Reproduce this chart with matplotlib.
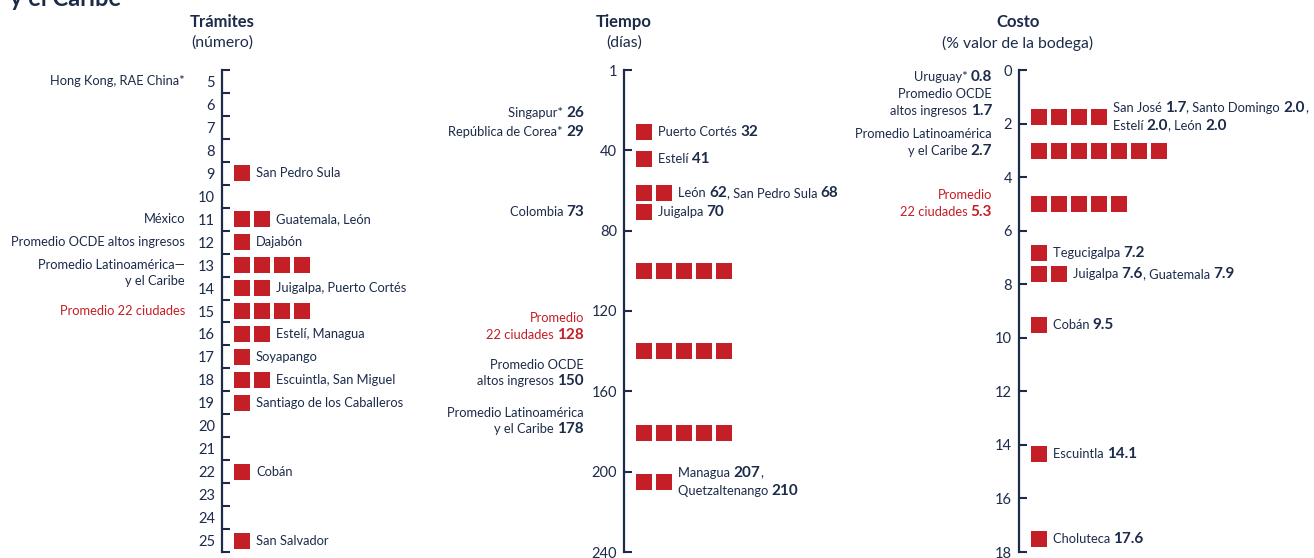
import matplotlib
matplotlib.use('Agg')
import matplotlib.pyplot as plt
import numpy as np
from matplotlib.offsetbox import TextArea, HPacker, VPacker, AnnotationBbox

plt.rcParams['font.family'] = ['Lato', 'DejaVu Sans']

NAVY = '#1c2b4a'
RED = '#c41e26'

# Trámites (número)
tram_vals = [9, 11, 12, 13, 14, 15, 16, 17, 18, 19, 22, 25]
tram_counts = [1, 2, 1, 4, 2, 4, 2, 1, 2, 1, 1, 1]
tram_names = ['San Pedro Sula', 'Guatemala, León', 'Dajabón', '', 'Juigalpa, Puerto Cortés', '',
              'Estelí, Managua', 'Soyapango', 'Escuintla, San Miguel', 'Santiago de los Caballeros',
              'Cobán', 'San Salvador']
tram_ref = ['Hong Kong, RAE China*', 'México', 'Promedio OCDE altos ingresos',
            'Promedio Latinoamérica—\ny el Caribe', 'Promedio 22 ciudades']
tram_ref_pos = [5, 11, 12, 13.35, 15]
tram_ref_red = [False, False, False, False, True]

# Tiempo (días)
tiempo_pos = [31, 44.5, 61.4, 70.8, 100.2, 140, 180.8, 205.2]
tiempo_counts = [1, 1, 2, 1, 5, 5, 5, 2]
tiempo_names = ['Puerto Cortés |32|', 'Estelí |41|', 'León |62|, San Pedro Sula |68|', 'Juigalpa |70|',
                '', '', '', 'Managua |207|,\nQuetzaltenango |210|']
tiempo_ref = ['Singapur* |26|', 'República de Corea* |29|', 'Colombia |73|',
              'Promedio\n22 ciudades |128|', 'Promedio OCDE\naltos ingresos |150|',
              'Promedio Latinoamérica\ny el Caribe |178|']
tiempo_ref_pos = [21.6, 31, 70.8, 128, 151, 175]
tiempo_ref_red = [False, False, False, True, False, False]
tiempo_ticks = [0, 40, 80, 120, 160, 200, 240]
tiempo_ticklabels = ['1', '40', '80', '120', '160', '200', '240']

# Costo (% valor de la bodega)
costo_pos = [1.75, 3.02, 5.0, 6.83, 7.62, 9.52, 14.34, 17.51]
costo_counts = [4, 7, 5, 1, 2, 1, 1, 1]
costo_names = ['San José |1.7|, Santo Domingo |2.0|,\nEstelí |2.0|, León |2.0|', '', '',
               'Tegucigalpa |7.2|', 'Juigalpa |7.6|, Guatemala |7.9|', 'Cobán |9.5|',
               'Escuintla |14.1|', 'Choluteca |17.6|']
costo_ref = ['Uruguay* |0.8|', 'Promedio OCDE\naltos ingresos |1.7|',
             'Promedio Latinoamérica\ny el Caribe |2.7|', 'Promedio\n22 ciudades |5.3|']
costo_ref_pos = [0.26, 1.23, 2.73, 5.0]
costo_ref_red = [False, False, False, True]

W, H = 1314, 558
fig = plt.figure(figsize=(W / 100, H / 100), dpi=100)
fig.text(10 / W, 1 - 6 / H, 'y el Caribe', fontsize=17, fontweight='bold', color=NAVY, va='baseline')


def make_ax(x0, w, lo, hi):
    ax = fig.add_axes([x0 / W, (H - 552) / H, w / W, 482 / H])
    ax.set_xlim(0, w)
    ax.set_ylim(hi, lo)
    for s in ['top', 'right', 'bottom']:
        ax.spines[s].set_visible(False)
    ax.spines['left'].set_color(NAVY)
    ax.spines['left'].set_linewidth(1.6)
    ax.set_xticks([])
    ax.patch.set_alpha(0)
    return ax


def rich(ax, x, y, s, ha, color, size=9.25):
    lines = []
    for line in s.split('\n'):
        parts = line.split('|')
        kids = []
        for i, p in enumerate(parts):
            if p == '':
                continue
            if i % 2:
                kids.append(TextArea(p, textprops=dict(color=color, fontsize=size + 1.7, fontweight='bold')))
            else:
                kids.append(TextArea(p, textprops=dict(color=color, fontsize=size)))
        lines.append(HPacker(children=kids, align='baseline', pad=0, sep=0))
    box = VPacker(children=lines, align='right' if ha == 'right' else 'left', pad=0, sep=2.5)
    ab = AnnotationBbox(box, (x, y), xycoords='data', frameon=False, pad=0,
                        box_alignment=(1 if ha == 'right' else 0, 0.5), annotation_clip=False)
    ax.add_artist(ab)


def squares(ax, pos, counts, names):
    for y, n, name in zip(pos, counts, names):
        xs = 20 + 20 * np.arange(n)
        ax.scatter(xs, [y] * n, marker='s', s=(16 * 0.72) ** 2, color=RED, linewidths=0, clip_on=False)
        if name:
            rich(ax, 20 * n + 14, y, name, 'left', NAVY)


def titles(x, t, sub):
    fig.text(x / W, 1 - 22 / H, t, fontsize=12, fontweight='bold', color=NAVY, ha='center', va='center')
    fig.text(x / W, 1 - 43 / H, sub, fontsize=11.3, color=NAVY, ha='center', va='center')


# Trámites
ax1 = make_ax(222, 200, 4.5, 25.5)
ax1.set_yticks(np.arange(4.5, 26, 1))
ax1.set_yticks(np.arange(5, 26), minor=True)
ax1.set_yticklabels([str(v) for v in range(5, 26)], minor=True)
ax1.tick_params(which='major', direction='in', length=6, width=1.5, color=NAVY, labelleft=False)
ax1.tick_params(which='minor', length=0, pad=5, labelsize=10.5, labelcolor=NAVY)
squares(ax1, tram_vals, tram_counts, tram_names)
for s, y, red in zip(tram_ref, tram_ref_pos, tram_ref_red):
    rich(ax1, -37, y, s, 'right', RED if red else NAVY)
titles(222, 'Trámites', '(número)')

# Tiempo
ax2 = make_ax(624, 260, 0, 240)
ax2.set_yticks(tiempo_ticks)
ax2.set_yticklabels(tiempo_ticklabels)
ax2.tick_params(direction='in', length=6, width=1.5, color=NAVY, pad=5, labelsize=10.5, labelcolor=NAVY)
squares(ax2, tiempo_pos, tiempo_counts, tiempo_names)
for s, y, red in zip(tiempo_ref, tiempo_ref_pos, tiempo_ref_red):
    rich(ax2, -40, y, s, 'right', RED if red else NAVY)
titles(624, 'Tiempo', '(días)')

# Costo
ax3 = make_ax(1019, 295, 0, 18)
ax3.set_yticks(np.arange(0, 19, 2))
ax3.tick_params(direction='in', length=6, width=1.5, color=NAVY, pad=5, labelsize=10.5, labelcolor=NAVY)
squares(ax3, costo_pos, costo_counts, costo_names)
for s, y, red in zip(costo_ref, costo_ref_pos, costo_ref_red):
    rich(ax3, -27, y, s, 'right', RED if red else NAVY)
titles(1018, 'Costo', '(% valor de la bodega)')

fig.savefig('out.png', dpi=100)
